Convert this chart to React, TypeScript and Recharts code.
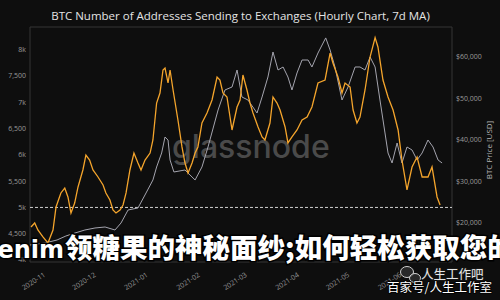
import React from 'react';
import { LineChart, Line, XAxis, YAxis, ReferenceLine, ReferenceArea } from 'recharts';

// x values: days since 2020-11-01
const monthTicks = [0, 30, 61, 92, 120, 151, 181, 212];
const monthLabels = ['2020-11', '2020-12', '2021-01', '2021-02', '2021-03', '2021-04', '2021-05', '2021-06'];

const addressTicks = [4000, 4500, 5000, 5500, 6000, 6500, 7000, 7500, 8000];
const addressTickLabels = ['4k', '4,500', '5k', '5,500', '6k', '6,500', '7k', '7,500', '8k'];

const priceTicks = [20000, 30000, 40000, 50000, 60000];
const priceTickLabels = ['$20,000', '$30,000', '$40,000', '$50,000', '$60,000'];

// Number of addresses sending to exchanges (7d MA) - orange
const addressDays = [
  -10.7, -8.5, -6.6, -3.6, -0.6, 2.4, 4.2, 7.1, 9.4, 11.3,
  13.1, 15.3, 17.3, 20.2, 22.0, 24.2, 26.2, 29.2, 32.2, 33.9,
  36.3, 38.1, 39.9, 42.3, 44.1, 45.9, 48.2, 50.6, 53.0, 54.8,
  57.2, 60.2, 61.9, 64.1, 66.1, 67.9, 69.1, 70.9, 72.1, 73.9,
  76.8, 79.2, 81.0, 82.8, 85.2, 87.0, 88.7, 91.1, 94.1, 97.1,
  100.1, 101.8, 103.6, 106.0, 109.0, 112.0, 113.8, 115.5, 117.9, 119.7,
  121.5, 124.5, 126.9, 128.6, 131.6, 133.4, 135.8, 137.6, 140.6, 142.3,
  144.7, 147.7, 150.7, 153.7, 156.6, 160.2, 164.4, 167.4, 169.1, 172.1,
  174.5, 176.3, 179.3, 181.1, 183.4, 185.2, 188.2, 191.2, 194.2, 195.9,
  198.9, 201.9, 204.9, 207.9, 210.2, 213.2, 216.2, 219.2, 222.2, 225.7,
  228.1, 231.1, 232.9,
];
const addressValues = [
  4628, 4704, 4571, 4438, 4324, 4571, 5008, 5275, 5370, 5199,
  4894, 5084, 5389, 5712, 5997, 5902, 5712, 5579, 5427, 5275,
  5142, 4951, 4894, 4951, 5046, 5275, 5712, 6035, 5845, 5712,
  5902, 6035, 6283, 6986, 7177, 7614, 7652, 7367, 7614, 7234,
  6663, 6150, 5845, 5655, 5845, 6035, 6150, 6606, 6796, 7044,
  7481, 7424, 7177, 7101, 6473, 6910, 7044, 7519, 7234, 6986,
  6796, 6530, 6340, 6283, 6606, 7101, 6986, 6853, 6530, 6226,
  6340, 6473, 6663, 6720, 6910, 7367, 7424, 7937, 7747, 7481,
  7177, 7367, 7291, 6853, 6606, 6720, 7234, 7861, 8230, 8052,
  7424, 7101, 6853, 6473, 5902, 5332, 5769, 5959, 5579, 5579,
  5769, 5199, 5046,
];

// BTC price (USD) - gray
const priceDays = [
  -11.3, -2.4, 4.8, 10.1, 15.5, 21.4, 27.4, 33.4, 39.3, 42.9,
  47.1, 53.0, 57.8, 61.9, 64.1, 67.1, 69.1, 70.9, 72.1, 74.4,
  81.0, 87.0, 91.1, 94.7, 100.7, 104.8, 109.0, 112.0, 114.9, 118.5,
  123.9, 126.9, 130.4, 133.4, 136.4, 139.4, 142.3, 144.7, 147.7, 150.7,
  154.3, 156.6, 160.2, 164.8, 167.4, 170.3, 174.5, 178.1, 182.3, 185.2,
  188.2, 191.2, 194.2, 197.1, 200.1, 201.9, 204.3, 207.3, 210.2, 213.2,
  216.2, 219.2, 222.2, 225.7, 228.7, 231.7, 234.1,
];
const priceValues = [
  14700, 15182, 15905, 16868, 17591, 18314, 18796, 19037, 18314, 20001,
  23133, 23615, 27229, 30362, 33495, 36868, 40723, 40001, 35181, 32290,
  32772, 30362, 33495, 38314, 47229, 52049, 52771, 56868, 50362, 49639,
  46506, 50362, 55181, 61205, 56868, 57591, 55181, 52049, 56145, 59277,
  59277, 57591, 60964, 64600, 61687, 57591, 49639, 52771, 57591, 57591,
  56868, 60000, 57591, 49639, 41687, 36868, 34458, 39278, 34458, 38314,
  37591, 35181, 36868, 40001, 38314, 35181, 34458,
];

const X_DOMAIN: [number, number] = [-11.3, 240];
const ADDR_DOMAIN: [number, number] = [3962, 8432];
const PRICE_DOMAIN: [number, number] = [10602, 67229];

const addressData = addressDays.map((d, i) => ({ day: d, v: addressValues[i] }));
const priceData = priceDays.map((d, i) => ({ day: d, v: priceValues[i] }));

const FONT = '"Open Sans", "Noto Sans", sans-serif';

const XTick = (props: any) => {
  const { x, y, payload } = props;
  const i = monthTicks.indexOf(payload.value);
  const tx = x - 3;
  const ty = y + 12;
  return (
    <text x={tx} y={ty} textAnchor="end" fontSize={7} fill="#9a9a9a" fontFamily={FONT}
      transform={`rotate(-33 ${tx} ${ty})`}>
      {i >= 0 ? monthLabels[i] : ''}
    </text>
  );
};

export default function App() {
  return (
    <div style={{ position: 'absolute', left: 0, top: 0, width: 500, height: 300, background: '#0e0e0e', overflow: 'hidden' }}>
      <svg width={500} height={300} style={{ position: 'absolute', left: 0, top: 0 }}>
        <text x={172} y={158} fontSize={32} fontFamily="Inter, sans-serif" fontWeight={500} fill="#4a4a4a">glassnode</text>
      </svg>
      <div style={{ position: 'absolute', left: 0, top: 0 }}>
        <LineChart width={500} height={300} margin={{ top: 27, right: 0, bottom: 8, left: 0 }}>
          <XAxis xAxisId="x" type="number" dataKey="day" domain={X_DOMAIN} ticks={monthTicks}
            allowDataOverflow tick={<XTick />} tickLine={false} axisLine={false} tickSize={0} height={30} />
          <YAxis yAxisId="addr" orientation="left" domain={ADDR_DOMAIN} ticks={addressTicks} allowDataOverflow
            width={30} tickLine={false} axisLine={false} tickSize={0} tickMargin={4}
            tickFormatter={(v: number) => addressTickLabels[addressTicks.indexOf(v)] ?? ''}
            tick={{ fontSize: 7, fill: '#9a9a9a', fontFamily: FONT }} />
          <YAxis yAxisId="price" orientation="right" domain={PRICE_DOMAIN} ticks={priceTicks} allowDataOverflow
            width={48} tickLine={false} axisLine={false} tickSize={0} tickMargin={4}
            tickFormatter={(v: number) => priceTickLabels[priceTicks.indexOf(v)] ?? ''}
            tick={{ fontSize: 7, fill: '#9a9a9a', fontFamily: FONT, textAnchor: 'start' }} />
          <ReferenceArea xAxisId="x" yAxisId="addr" x1={X_DOMAIN[0]} x2={X_DOMAIN[1]} y1={ADDR_DOMAIN[0]} y2={ADDR_DOMAIN[1]}
            fill="none" stroke="#343434" strokeWidth={1} fillOpacity={0} />
          <ReferenceLine xAxisId="x" yAxisId="addr" y={5000} stroke="#d0d0d0" strokeDasharray="3 2" strokeWidth={1} />
          <Line xAxisId="x" yAxisId="price" data={priceData} dataKey="v" type="linear" stroke="#a4a4ae"
            strokeWidth={1} dot={false} isAnimationActive={false} />
          <Line xAxisId="x" yAxisId="addr" data={addressData} dataKey="v" type="linear" stroke="#f5a52c"
            strokeWidth={1.3} dot={false} isAnimationActive={false} />
        </LineChart>
      </div>
      <svg width={500} height={300} style={{ position: 'absolute', left: 0, top: 0 }}>
        <text x={240.5} y={20} textAnchor="middle" fontSize={11.5} fill="#e4e4e4" fontFamily={FONT}>
          BTC Number of Addresses Sending to Exchanges (Hourly Chart, 7d MA)
        </text>
        <text x={488} y={150} textAnchor="middle" dominantBaseline="central" fontSize={8} fill="#b4b4b4" fontFamily={FONT}
          transform="rotate(-90 488 150)">BTC Price [USD]</text>
        <text x={64} y={258} textAnchor="end" fontSize={24} fontWeight={700} fontFamily='"DejaVu Sans", sans-serif'
          fill="#ffffff" stroke="#000000" strokeWidth={3} style={{ paintOrder: 'stroke' }}>enim</text>
        <text x={65} y={258} fontSize={27.5} fontWeight={900} fontFamily='"Noto Sans CJK SC", sans-serif'
          fill="#ffffff" stroke="#000000" strokeWidth={3} style={{ paintOrder: 'stroke' }}>领糖果的神秘面纱;如何轻松获取您的数</text>
        <ellipse cx={407} cy={272} rx={6.5} ry={5.5} fill="rgba(60,60,60,0.6)" stroke="#cfcfcf" strokeWidth={1} />
        <ellipse cx={415} cy={278} rx={5.5} ry={4.5} fill="rgba(60,60,60,0.6)" stroke="#cfcfcf" strokeWidth={1} />
        <text x={421} y={279} fontSize={12.5} fill="#e6e6e6" fontFamily='"Noto Sans CJK SC", sans-serif'
          stroke="#222" strokeWidth={1} style={{ paintOrder: 'stroke' }}>人生工作吧</text>
        <text x={387} y={292} fontSize={12.5} fill="#ffffff" fontFamily='"Noto Sans CJK SC", sans-serif'
          stroke="#000" strokeWidth={1.5} style={{ paintOrder: 'stroke' }}>百家号/人生工作室</text>
      </svg>
    </div>
  );
}
